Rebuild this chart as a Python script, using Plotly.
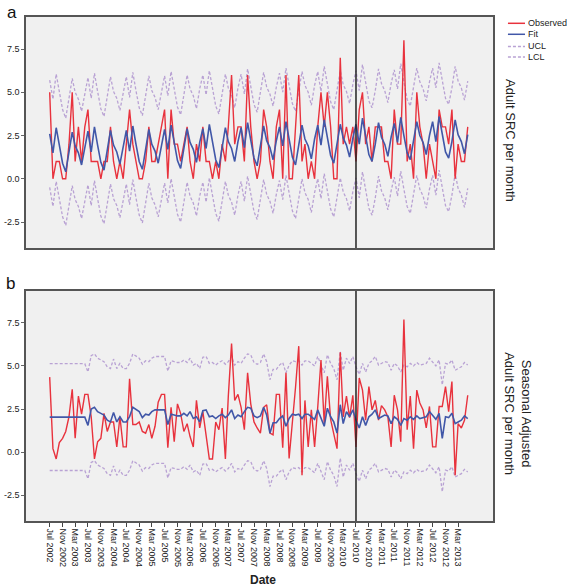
import pandas as pd
import plotly.graph_objects as go

# ---------------- data ----------------
months = pd.date_range("2002-07-01", periods=132, freq="MS").strftime("%Y-%m-%d").tolist()

obs_a = [5,0,1,1,0,0,2,5,1,3,1,3,
         4,1,1,1,0,1,1,3,1,0,1,0,
         2,4,2,1,0,0,1,3,1,1,2,3,
         4,0,4,2,2,1,2,3,1,0,2,1,
         3,1,1,0,1,0,2,1,3,6,2,3,
         3,1,6,3,1,0,1,4,3,1,0,3,
         4,0,6,0,0,3,6,1,2,0,1,0,
         3,5,3,5,3,0,0,7,2,3,2,3,
         1,4,5,2,3,1,3,3,3,1,1,0,
         4,2,2,8,1,2,0,5,3,2,0,2,
         1,0,4,3,3,2,4,0,2,1,1,3]

fit_a = [2.6,1.5,2.95,1.9,0.9,0.4,1.5,2.7,1.9,1.5,0.8,1.9,
         2.75,1.55,3.0,1.95,0.95,0.5,1.55,2.8,1.95,1.55,0.85,1.95,
         2.8,1.6,3.05,2.0,1.0,0.55,1.6,2.85,2.0,1.6,0.9,2.0,
         2.85,1.7,3.1,2.1,1.05,0.6,1.7,2.9,2.1,1.7,0.95,2.1,
         2.9,1.75,3.15,2.15,1.1,0.65,1.75,2.95,2.15,1.75,1.0,2.15,
         2.95,1.8,3.25,2.2,1.2,0.75,1.8,3.05,2.2,1.8,1.1,2.2,
         3.0,1.9,3.3,2.3,1.25,0.8,1.9,3.1,2.3,1.9,1.15,2.3,
         3.1,1.95,3.4,2.35,1.35,0.9,1.95,3.15,2.35,1.95,1.25,2.35,
         3.15,2.0,3.5,2.4,1.4,1.0,2.0,3.25,2.4,2.0,1.3,2.4,
         3.2,2.1,3.55,2.5,1.5,1.1,2.1,3.3,2.5,2.1,1.4,2.5,
         3.3,2.15,3.6,2.55,1.55,1.2,2.15,3.4,2.55,2.15,1.45,2.55]

ucl_a = [5.7,4.6,6.05,5.0,4.0,3.5,4.6,5.8,5.0,4.6,3.9,5.0,
         5.85,4.65,6.1,5.05,4.05,3.6,4.65,5.9,5.05,4.65,3.95,5.05,
         5.9,4.7,6.15,5.1,4.1,3.65,4.7,5.95,5.1,4.7,4.0,5.1,
         5.95,4.8,6.2,5.2,4.15,3.7,4.8,6.0,5.2,4.8,4.05,5.2,
         6.0,4.85,6.25,5.25,4.2,3.75,4.85,6.05,5.25,4.85,4.1,5.25,
         6.05,4.9,6.35,5.3,4.3,3.85,4.9,6.15,5.3,4.9,4.2,5.3,
         6.1,5.0,6.4,5.4,4.35,3.9,5.0,6.2,5.4,5.0,4.25,5.4,
         6.2,5.05,6.5,5.45,4.45,4.0,5.05,6.25,5.45,5.05,4.35,5.45,
         6.25,5.1,6.6,5.5,4.5,4.1,5.1,6.35,5.5,5.1,4.4,5.5,
         6.3,5.2,6.65,5.6,4.6,4.2,5.2,6.4,5.6,5.2,4.5,5.6,
         6.4,5.25,6.7,5.65,4.65,4.3,5.25,6.5,5.65,5.25,4.55,5.65]

lcl_a = [-0.5,-1.6,-0.15,-1.2,-2.2,-2.7,-1.6,-0.4,-1.2,-1.6,-2.3,-1.2,
         -0.35,-1.55,-0.1,-1.15,-2.15,-2.6,-1.55,-0.3,-1.15,-1.55,-2.25,-1.15,
         -0.3,-1.5,-0.05,-1.1,-2.1,-2.55,-1.5,-0.25,-1.1,-1.5,-2.2,-1.1,
         -0.25,-1.4,0.0,-1.0,-2.05,-2.5,-1.4,-0.2,-1.0,-1.4,-2.15,-1.0,
         -0.2,-1.35,0.05,-0.95,-2.0,-2.45,-1.35,-0.15,-0.95,-1.35,-2.1,-0.95,
         -0.15,-1.3,0.15,-0.9,-1.9,-2.35,-1.3,-0.05,-0.9,-1.3,-2.0,-0.9,
         -0.1,-1.2,0.2,-0.8,-1.85,-2.3,-1.2,0.0,-0.8,-1.2,-1.95,-0.8,
         0.0,-1.15,0.3,-0.75,-1.75,-2.2,-1.15,0.05,-0.75,-1.15,-1.85,-0.75,
         0.05,-1.1,0.4,-0.7,-1.7,-2.1,-1.1,0.15,-0.7,-1.1,-1.8,-0.7,
         0.1,-1.0,0.45,-0.6,-1.6,-2.0,-1.0,0.2,-0.6,-1.0,-1.7,-0.6,
         0.2,-0.95,0.5,-0.55,-1.55,-1.9,-0.95,0.3,-0.55,-0.95,-1.65,-0.55]

obs_b = [4.35,0.2,-0.4,0.55,0.8,1.2,2.05,3.65,0.8,3.25,2.2,3.35,
         3.35,2.05,-0.4,0.6,0.8,2.25,1.2,1.75,1.75,0.3,2.05,0.3,
         0.3,4.25,1.6,1.6,1.75,1.2,1.1,1.6,0.8,1.5,2.9,3.35,
         3.35,0.25,2.6,0.6,2.8,2.25,1.2,1.65,0.9,0.3,3.0,1.4,
         2.35,0.8,-0.4,-0.4,1.75,1.3,2.55,-0.4,3.25,6.3,3.0,3.35,
         2.6,1.3,4.6,2.8,1.75,1.4,1.1,2.6,2.75,1.1,1.0,3.35,
         3.35,0.25,4.6,-0.37,1.6,3.75,6.15,-1.35,3.0,0.3,2.45,0.3,
         2.6,5.35,1.65,4.4,1.9,1.0,0.2,5.8,2.05,3.25,2.0,3.3,
         0.3,4.3,3.6,1.85,3.8,2.45,3.0,1.85,2.7,2.45,2.05,0.3,
         3.3,2.45,0.6,7.7,1.3,3.25,0.2,3.6,2.85,2.45,1.4,2.65,
         0.3,0.3,2.65,2.65,3.8,2.35,4.1,-1.35,1.65,1.4,1.85,3.3]

fit_b = [2.03,2.03,2.03,2.03,2.03,2.03,2.03,2.03,2.03,2.03,2.03,2.03,
         1.55,2.5,2.6,2.35,2.25,2.15,1.85,1.75,2.3,1.75,2.05,1.75,
         1.75,2.05,2.6,2.45,2.35,2.0,2.2,2.15,2.35,2.45,2.45,2.45,
         2.45,1.6,2.2,2.15,2.1,2.1,2.25,2.1,2.35,1.95,2.05,1.75,
         2.4,2.45,2.05,2.1,1.95,2.1,2.2,2.0,2.15,2.45,1.95,2.15,
         2.05,2.35,2.6,2.55,2.1,2.0,2.1,2.6,2.15,1.1,1.7,1.7,
         1.95,2.1,1.5,1.95,2.2,2.15,2.2,1.95,2.2,2.2,2.05,1.9,
         2.45,2.0,1.5,2.55,2.05,1.75,1.1,2.75,1.65,2.35,2.05,2.45,
         1.85,1.4,2.05,1.55,2.05,2.2,2.45,1.95,2.05,2.15,2.1,1.65,
         2.05,1.9,1.55,1.95,1.85,2.05,1.9,2.1,1.95,2.0,2.05,2.35,
         2.1,1.9,2.25,0.8,2.05,2.0,2.25,1.65,1.75,1.85,2.1,1.95]

ucl_b = [5.13,5.13,5.13,5.13,5.13,5.13,5.13,5.13,5.13,5.13,5.13,5.13,
         4.65,5.6,5.7,5.45,5.35,5.25,4.95,4.85,5.4,4.85,5.15,4.85,
         4.85,5.15,5.7,5.55,5.45,5.1,5.3,5.25,5.45,5.55,5.55,5.55,
         5.55,4.7,5.3,5.25,5.2,5.2,5.35,5.2,5.45,5.05,5.15,4.85,
         5.5,5.55,5.15,5.2,5.05,5.2,5.3,5.1,5.25,5.55,5.05,5.25,
         5.15,5.45,5.7,5.65,5.2,5.1,5.2,5.7,5.25,4.2,4.8,4.8,
         5.05,5.2,4.6,5.05,5.3,5.25,5.3,5.05,5.3,5.3,5.15,5.0,
         5.55,5.1,4.6,5.65,5.15,4.85,4.2,5.85,4.75,5.45,5.15,5.55,
         4.95,4.5,5.15,4.65,5.15,5.3,5.55,5.05,5.15,5.25,5.2,4.75,
         5.15,5.0,4.65,5.05,4.95,5.15,5.0,5.2,5.05,5.1,5.15,5.45,
         5.2,5.0,5.35,3.9,5.15,5.1,5.35,4.75,4.85,4.95,5.2,5.05]

lcl_b = [-1.07,-1.07,-1.07,-1.07,-1.07,-1.07,-1.07,-1.07,-1.07,-1.07,-1.07,-1.07,
         -1.55,-0.6,-0.5,-0.75,-0.85,-0.95,-1.25,-1.35,-0.8,-1.35,-1.05,-1.35,
         -1.35,-1.05,-0.5,-0.65,-0.75,-1.1,-0.9,-0.95,-0.75,-0.65,-0.65,-0.65,
         -0.65,-1.5,-0.9,-0.95,-1.0,-1.0,-0.85,-1.0,-0.75,-1.15,-1.05,-1.35,
         -0.7,-0.65,-1.05,-1.0,-1.15,-1.0,-0.9,-1.1,-0.95,-0.65,-1.15,-0.95,
         -1.05,-0.75,-0.5,-0.55,-1.0,-1.1,-1.0,-0.5,-0.95,-2.0,-1.4,-1.4,
         -1.15,-1.0,-1.6,-1.15,-0.9,-0.95,-0.9,-1.15,-0.9,-0.9,-1.05,-1.2,
         -0.65,-1.1,-1.6,-0.55,-1.05,-1.35,-2.0,-0.35,-1.45,-0.75,-1.05,-0.65,
         -1.25,-1.7,-1.05,-1.55,-1.05,-0.9,-0.65,-1.15,-1.05,-0.95,-1.0,-1.45,
         -1.05,-1.2,-1.55,-1.15,-1.25,-1.05,-1.2,-1.0,-1.15,-1.1,-1.05,-0.75,
         -1.0,-1.2,-0.85,-2.3,-1.05,-1.1,-0.85,-1.45,-1.35,-1.25,-1.0,-1.15]

tick_labels = ["Jul 2002","Nov 2002","Mar 2003","Jul 2003","Nov 2003","Mar 2004",
               "Jul 2004","Nov 2004","Mar 2005","Jul 2005","Nov 2005","Mar 2006",
               "Jul 2006","Nov 2006","Mar 2007","Jul 2007","Nov 2007","Mar 2008",
               "Jul 2008","Nov 2008","Mar 2009","Jul 2009","Nov 2009","Mar 2010",
               "Jul 2010","Nov 2010","Mar 2011","Jul 2011","Nov 2011","Mar 2012",
               "Jul 2012","Nov 2012","Mar 2013"]
tick_vals = [pd.to_datetime(t, format="%b %Y").strftime("%Y-%m-%d") for t in tick_labels]

y_tickvals = [-2.5, 0.0, 2.5, 5.0, 7.5]
y_ticktext = ["-2.5", "0.0", "2.5", "5.0", "7.5"]
intervention = "2010-07-01"

# ---------------- style ----------------
RED = "#e8323d"
BLUE = "#4157a8"
LAV = "#b9a2d4"
FONT = "Arial, Liberation Sans, sans-serif"

fig = go.Figure()

def add_panel(obs, fit, ucl, lcl, xa, ya):
    fig.add_trace(go.Scatter(x=months, y=ucl, mode="lines", name="UCL", xaxis=xa, yaxis=ya,
                             line=dict(color=LAV, width=1.3, dash="3px,2px"), showlegend=False))
    fig.add_trace(go.Scatter(x=months, y=lcl, mode="lines", name="LCL", xaxis=xa, yaxis=ya,
                             line=dict(color=LAV, width=1.3, dash="3px,2px"), showlegend=False))
    fig.add_trace(go.Scatter(x=months, y=obs, mode="lines", name="Observed", xaxis=xa, yaxis=ya,
                             line=dict(color=RED, width=1.4), showlegend=False))
    fig.add_trace(go.Scatter(x=months, y=fit, mode="lines", name="Fit", xaxis=xa, yaxis=ya,
                             line=dict(color=BLUE, width=1.6), showlegend=False))

add_panel(obs_a, fit_a, ucl_a, lcl_a, "x", "y")
add_panel(obs_b, fit_b, ucl_b, lcl_b, "x2", "y2")

xrange = ["2001-11-17", "2014-01-28"]
yrange = [-4.0, 9.35]
common_y = dict(range=yrange, tickvals=y_tickvals, ticktext=y_ticktext, showgrid=False,
                zeroline=False, ticks="outside", ticklen=3, tickcolor="#666", automargin=False,
                showline=True, mirror=True, linecolor="#555", linewidth=1.5,
                tickfont=dict(size=9, color="#222", family=FONT))

fig.update_layout(
    template="none",
    width=567, height=588,
    margin=dict(l=26, r=74, t=17, b=67, pad=0),
    paper_bgcolor="white", plot_bgcolor="#f0f0f0",
    font=dict(family=FONT, color="#222"),
    showlegend=False,
    xaxis=dict(domain=[0, 1], anchor="y", type="date", range=xrange, showticklabels=False,
               ticks="", showgrid=False, zeroline=False, showline=True, mirror=True,
               linecolor="#555", linewidth=1.5, automargin=False),
    yaxis=dict(domain=[0.5417, 1], anchor="x", **common_y),
    xaxis2=dict(domain=[0, 1], anchor="y2", type="date", range=xrange, tickvals=tick_vals,
                ticktext=tick_labels, tickangle=90, ticks="outside", ticklen=4, tickcolor="#444",
                showgrid=False, zeroline=False, showline=True, mirror=True, automargin=False,
                linecolor="#555", linewidth=1.5,
                tickfont=dict(size=9, color="#222", family=FONT)),
    yaxis2=dict(domain=[0, 0.4563], anchor="x2", **common_y),
)

# intervention lines
for xr, yr in (("x", "y domain"), ("x2", "y2 domain")):
    fig.add_shape(type="line", xref=xr, yref=yr, x0=intervention, x1=intervention, y0=0, y1=1,
                  line=dict(color="#222", width=1.5))

# manual legend
leg_items = [("Observed", RED, "solid"), ("Fit", BLUE, "solid"),
             ("UCL", LAV, "3px,2px"), ("LCL", LAV, "3px,2px")]
leg_y = [0.9875, 0.9657, 0.9415, 0.9205]
for (name, col, dash), yy in zip(leg_items, leg_y):
    fig.add_shape(type="line", xref="paper", yref="paper", x0=1.032, x1=1.0685, y0=yy, y1=yy,
                  line=dict(color=col, width=1.5, dash=dash))
    fig.add_annotation(xref="paper", yref="paper", x=1.0705, y=yy, text=name, showarrow=False,
                       xanchor="left", yanchor="middle", font=dict(size=9, color="#222", family=FONT))

# axis titles
fig.add_annotation(xref="paper", yref="paper", x=1.0364, y=0.754, text="Adult SRC per month",
                   textangle=90, showarrow=False, xanchor="center", yanchor="middle",
                   font=dict(size=13, color="#222", family=FONT))
fig.add_annotation(xref="paper", yref="paper", x=1.0535, y=0.212,
                   text="Seasonal Adjusted<br>Adult SRC per month",
                   textangle=90, showarrow=False, xanchor="center", yanchor="middle",
                   font=dict(size=13, color="#222", family=FONT))
fig.add_annotation(xref="paper", yref="paper", x=0.5075, y=-0.117, text="<b>Date</b>",
                   showarrow=False, xanchor="center", yanchor="middle",
                   font=dict(size=12, color="#222", family=FONT))

# panel letters
fig.add_annotation(xref="paper", yref="paper", x=-0.03, y=1.008, text="a", showarrow=False,
                   xanchor="center", yanchor="middle", font=dict(size=17, color="#111", family=FONT))
fig.add_annotation(xref="paper", yref="paper", x=-0.034, y=0.472, text="b", showarrow=False,
                   xanchor="center", yanchor="middle", font=dict(size=17, color="#111", family=FONT))

fig.write_html("out.html", config={"displayModeBar": False},
               post_script="document.body.style.margin='0';document.body.style.overflow='hidden';")
